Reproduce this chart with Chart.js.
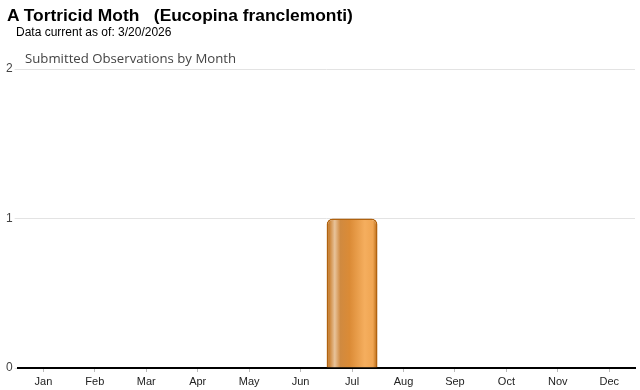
<!DOCTYPE html>
<html>
<head>
<meta charset="utf-8">
<script src="https://cdn.jsdelivr.net/npm/chart.js@4/dist/chart.umd.min.js"></script>
<style>
  html, body { margin: 0; padding: 0; background: #fff; width: 640px; height: 390px; overflow: hidden; }
  #wrap { position: absolute; left: 0; top: 0; width: 640px; height: 390px; }
  .t1 { position: absolute; left: 7px; top: 5px; font: bold 17.4px Arial, "Liberation Sans", sans-serif; color: #000; white-space: pre; }
  .t2 { position: absolute; left: 16px; top: 25px; font: 12px Arial, "Liberation Sans", sans-serif; color: #000; }
  .t3 { position: absolute; left: 25px; top: 49px; font: 13.2px "Open Sans", "Noto Sans", sans-serif; color: #444; }
</style>
</head>
<body>
<div id="wrap"><canvas id="c" width="640" height="390"></canvas></div>
<div class="t1">A Tortricid Moth   (Eucopina franclemonti)</div>
<div class="t2">Data current as of: 3/20/2026</div>
<div class="t3">Submitted Observations by Month</div>
<script>
const months = ["Jan","Feb","Mar","Apr","May","Jun","Jul","Aug","Sep","Oct","Nov","Dec"];
const observations = [0,0,0,0,0,0,1,0,0,0,0,0];
const yTicks = [0,1,2];

function barGradient(ctx) {
  const chart = ctx.chart;
  const area = chart.chartArea;
  if (!area || !chart.scales.x) return '#dc8b35';
  const xs = chart.scales.x;
  const cx = xs.getPixelForValue(ctx.dataIndex);
  const w = xs.width / months.length * 0.99;
  const g = chart.ctx.createLinearGradient(cx - w/2, 0, cx + w/2, 0);
  g.addColorStop(0.00, '#b3640f');
  g.addColorStop(0.06, '#cd8639');
  g.addColorStop(0.16, '#e8c39a');
  g.addColorStop(0.27, '#d08a40');
  g.addColorStop(0.45, '#db8b36');
  g.addColorStop(0.75, '#f5ae5e');
  g.addColorStop(0.91, '#f0a552');
  g.addColorStop(1.00, '#b3640f');
  return g;
}

new Chart(document.getElementById('c'), {
  type: 'bar',
  data: {
    labels: months,
    datasets: [{
      data: observations,
      backgroundColor: barGradient,
      borderColor: '#b0620f',
      borderWidth: 1.5,
      borderSkipped: 'bottom',
      borderRadius: { topLeft: 6, topRight: 6, bottomLeft: 0, bottomRight: 0 },
      barPercentage: 0.99,
      categoryPercentage: 1.0
    }]
  },
  options: {
    responsive: false,
    animation: false,
    devicePixelRatio: 1,
    layout: { padding: { top: 69, right: 5, bottom: -1, left: 4 } },
    plugins: { legend: { display: false }, tooltip: { enabled: false }, title: { display: false } },
    scales: {
      x: {
        grid: { display: true, offset: false, drawOnChartArea: false, drawTicks: true, tickLength: 4, color: '#bbbbbb' },
        border: { display: true, color: '#000', width: 2 },
        ticks: { color: '#222', font: { family: 'Arial, "Liberation Sans", sans-serif', size: 11, lineHeight: 1.0 }, padding: 4, maxRotation: 0 }
      },
      y: {
        min: 0, max: 2,
        afterBuildTicks: (axis) => { axis.ticks = yTicks.map(v => ({ value: v })); },
        grid: { color: '#e3e3e3', tickLength: 3, lineWidth: 1 },
        border: { display: false },
        ticks: { color: '#444', font: { family: 'Arial, "Liberation Sans", sans-serif', size: 12 }, padding: 2 }
      }
    }
  }
});
</script>
</body>
</html>
